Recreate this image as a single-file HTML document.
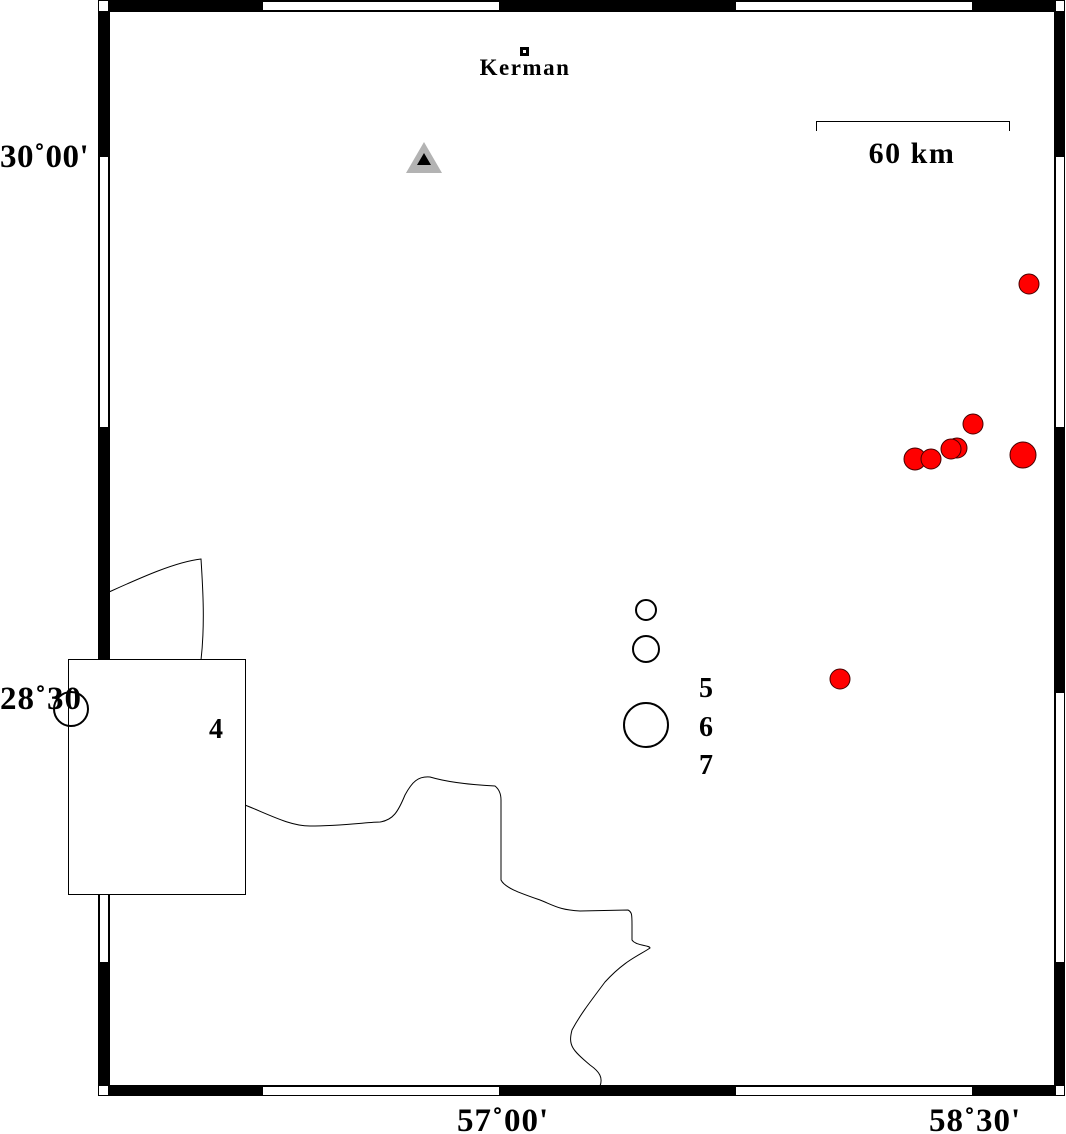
<!DOCTYPE html>
<html><head><style>body{margin:0;background:#fff}svg{display:block}</style></head><body>
<svg width="1066" height="1134" xmlns="http://www.w3.org/2000/svg" font-family="Liberation Serif, serif" font-weight="bold">
<rect x="98.5" y="0.5" width="966" height="1095" fill="#fff" stroke="#000"/>
<g fill="#000">
<rect x="108" y="1" width="155" height="10"/><rect x="499" y="1" width="237" height="10"/><rect x="972" y="1" width="83" height="10"/>
<rect x="108" y="1086" width="155" height="10"/><rect x="499" y="1086" width="237" height="10"/><rect x="972" y="1086" width="83" height="10"/>
<rect x="99" y="11" width="10" height="146"/><rect x="99" y="427" width="10" height="266"/><rect x="99" y="962" width="10" height="124"/>
<rect x="1055" y="11" width="10" height="146"/><rect x="1055" y="427" width="10" height="266"/><rect x="1055" y="962" width="10" height="124"/>
</g>
<rect x="109.5" y="11.5" width="945" height="1074" fill="none" stroke="#000"/>
<rect x="99.5" y="11.5" width="9" height="1074" fill="none" stroke="#000"/>
<rect x="1055.5" y="11.5" width="9" height="1074" fill="none" stroke="#000"/>
<rect x="108.5" y="1.5" width="947" height="9" fill="none" stroke="#000"/>
<rect x="108.5" y="1086.5" width="947" height="9" fill="none" stroke="#000"/>
<g fill="none" stroke="#000" stroke-width="1">
<path d="M109,592 C140,578 175,562 201,559 C203,590 205,625 201,660"/>
<path d="M245,805 C270,815 290,826 310,826 C340,826 370,822 380,822 C393,820 398,812 405,795 C412,782 418,776 430,777 C450,783 475,785 495,786 C500,790 501,795 501,800 L501,880 C505,888 520,893 540,900 C555,906 560,910 580,911 L628,910 C632,912 632,915 632,925 L632,940 C636,946 650,945 650,948 C640,955 625,960 605,982 C590,1002 580,1015 572,1030 C568,1045 572,1050 590,1065 C600,1072 603,1078 600,1086"/>
</g>
<rect x="68.5" y="659.5" width="177" height="235" fill="#fff" stroke="#000"/>
<text x="0" y="709" font-size="33" letter-spacing="1">28˚30</text>
<circle cx="71" cy="709" r="17" fill="none" stroke="#000" stroke-width="2"/>
<text x="209" y="738" font-size="28">4</text>
<text x="0" y="167" font-size="33" letter-spacing="0.5">30˚00'</text>
<text x="457" y="1131" font-size="33" letter-spacing="1">57˚00'</text>
<text x="929" y="1131" font-size="33" letter-spacing="1">58˚30'</text>
<rect x="520" y="47" width="9" height="9" fill="#000"/><rect x="523" y="50" width="3" height="3" fill="#fff"/>
<text x="525" y="75" font-size="23" letter-spacing="1.5" text-anchor="middle">Kerman</text>
<polygon points="424,142 406,173 442,173" fill="#b3b3b3"/>
<polygon points="424,153 417,165 431,165" fill="#000"/>
<path d="M816.5,131 V121.5 H1009.5 V131" fill="none" stroke="#000"/>
<text x="912" y="163" font-size="30" letter-spacing="1.5" text-anchor="middle">60 km</text>
<g fill="none" stroke="#000" stroke-width="2">
<circle cx="646" cy="610" r="10"/><circle cx="646" cy="649" r="13"/><circle cx="646" cy="725" r="22"/>
</g>
<text x="699" y="697" font-size="28">5</text>
<text x="699" y="736" font-size="28">6</text>
<text x="699" y="774" font-size="28">7</text>
<g fill="#f00" stroke="#400" stroke-width="1">
<circle cx="1029" cy="284" r="10"/>
<circle cx="973" cy="424" r="10"/>
<circle cx="957" cy="448" r="10"/>
<circle cx="951" cy="449" r="10"/>
<circle cx="915" cy="459" r="11"/>
<circle cx="931" cy="459" r="10"/>
<circle cx="1023" cy="455" r="13"/>
<circle cx="840" cy="679" r="10"/>
</g>
</svg>
</body></html>
